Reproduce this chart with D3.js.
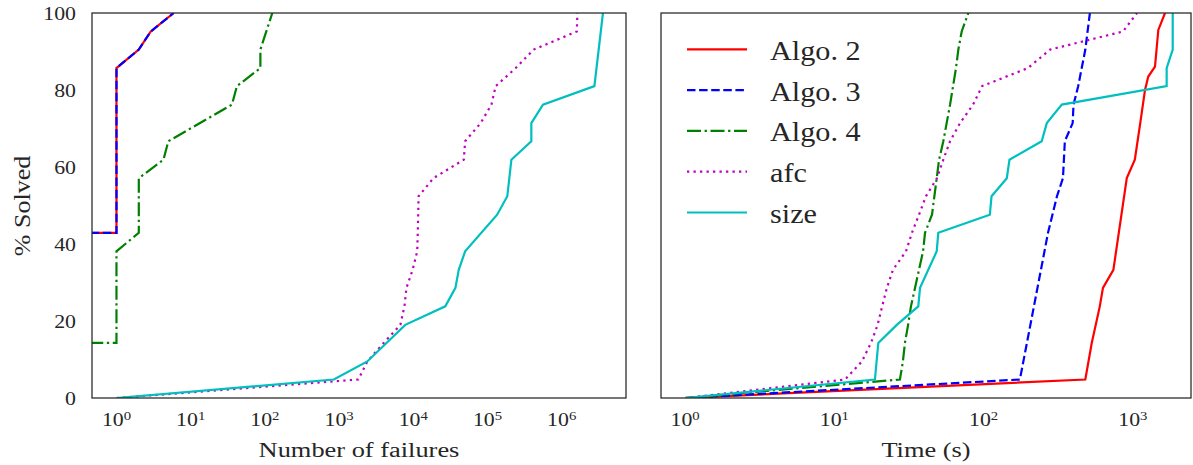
<!DOCTYPE html>
<html>
<head>
<meta charset="utf-8">
<script src="https://cdn.jsdelivr.net/npm/d3@7"></script>
<style>
  body { margin: 0; background: #fff; }
  text { font-family: 'Liberation Serif', serif; fill: #262626; }
</style>
</head>
<body>
<div id="chart-container"></div>
<script>
// series: [x, % solved]; x = 0.1 marks points that fall off the left of the log axis
const seriesNames = ['Algo. 2', 'Algo. 3', 'Algo. 4', 'afc', 'size'];

const failAlgo2 = [[0.1, 42.9], [1, 42.9], [1, 85.7], [2, 90.5], [2.9, 95.2], [5.9, 100]];
const failAlgo3 = [[0.1, 42.9], [1, 42.9], [1, 85.7], [2, 90.5], [2.9, 95.2], [5.9, 100]];
const failAlgo4 = [[0.1, 14.3], [1, 14.3], [1, 38.1], [2, 42.9], [2, 57.1], [4.3, 61.9], [5, 66.7],
  [36, 76.2], [42, 81.0], [87, 85.7], [87, 90.5], [126, 100]];
const failAfc = [[1, 0], [1820, 4.8], [2400, 9.5], [4000, 14.3], [6700, 19.0], [7600, 23.8], [8100, 28.6],
  [9800, 33.3], [11300, 38.1], [11500, 42.9], [11800, 52.4], [18700, 57.1], [48000, 61.9], [50000, 66.7],
  [81000, 71.4], [113000, 76.2], [129000, 81.0], [240000, 85.7], [420000, 90.5], [1.6e6, 95.2], [1.63e6, 100]];
const failSize = [[1, 0], [850, 4.8], [2400, 9.5], [7800, 19.0], [27000, 23.8], [37000, 28.6], [41000, 33.3],
  [50000, 38.1], [135000, 47.6], [185000, 52.4], [210000, 61.9], [390000, 66.7], [390000, 71.4],
  [560000, 76.2], [2.76e6, 81.0], [3.6e6, 100]];

const timeAlgo2 = [[1, 0], [480, 4.8], [530, 14.3], [600, 23.8], [630, 28.6], [740, 33.3], [910, 57.1],
  [1030, 61.9], [1120, 71.4], [1205, 80.0], [1268, 83.5], [1406, 86.1], [1480, 95.6], [1641, 100]];
const timeAlgo3 = [[1, 0], [175, 4.8], [270, 42.9], [310, 52.4], [340, 57.1], [350, 66.7], [395, 71.4],
  [400, 76.2], [430, 81.0], [480, 90.5], [515, 100]];
const timeAlgo4 = [[1, 0], [27.5, 4.8], [28.8, 9.5], [29.7, 14.3], [31.2, 19.0], [32.6, 23.8], [34.7, 28.6],
  [36.9, 33.3], [39.3, 38.1], [40.5, 42.9], [45.1, 47.6], [48.5, 57.1], [50.3, 61.9], [53.7, 66.7],
  [59.6, 76.2], [62.4, 81.0], [65.3, 85.7], [67.7, 90.5], [71.3, 95.2], [79, 100]];
const timeAfc = [[1, 0], [11.8, 4.8], [15.3, 9.5], [17.6, 14.3], [19.5, 19.0], [20.9, 23.8], [22.5, 28.6],
  [24.7, 33.3], [30.2, 38.1], [33.1, 42.9], [36.9, 47.6], [41.1, 52.4], [48.7, 57.1], [53.7, 61.9],
  [59.6, 66.7], [69.5, 71.4], [85, 76.2], [97.6, 81.0], [198, 85.7], [279, 90.5], [859, 95.2], [1065, 100]];
const timeSize = [[1, 0], [18.7, 4.8], [19.7, 14.3], [26.2, 19.0], [36.5, 23.8], [37.5, 28.6], [48.5, 38.1],
  [49.7, 42.9], [110, 47.6], [113, 52.4], [143, 57.1], [149, 61.9], [245, 66.7], [265, 71.4], [334, 76.2],
  [1683, 81.0], [1683, 85.7], [1848, 90.5], [1848, 100]];

const yTicks = [0, 20, 40, 60, 80, 100];
const failTicks = [0, 1, 2, 3, 4, 5, 6];   // exponents
const timeTicks = [0, 1, 2, 3];

const styles = [
  { color: '#ff0000', dash: null },
  { color: '#0000ff', dash: '8.5 3.6' },
  { color: '#008000', dash: '14 3.6 2.3 3.6' },
  { color: '#bf00bf', dash: '2.3 4.2' },
  { color: '#00bfbf', dash: null }
];

const svgWidth = 1193;
const svgHeight = 465;

const svg = d3.select('#chart-container')
  .append('svg')
  .attr('width', svgWidth)
  .attr('height', svgHeight);

const yScale = d3.scaleLinear().domain([0, 100]).range([398, 13]);

const panels = [
  { id: 'fail', x: d3.scaleLog().domain([0.468, 7.36e6]).range([92, 626]),
    series: [failAlgo2, failAlgo3, failAlgo4, failAfc, failSize], ticks: failTicks, label: 'Number of failures' },
  { id: 'time', x: d3.scaleLog().domain([0.69, 2450]).range([661, 1191]),
    series: [timeAlgo2, timeAlgo3, timeAlgo4, timeAfc, timeSize], ticks: timeTicks, label: 'Time (s)' }
];

panels.forEach(function (p) {
  const x0 = p.x.range()[0], x1 = p.x.range()[1];
  const y0 = yScale.range()[1], y1 = yScale.range()[0];

  svg.append('clipPath').attr('id', 'clip-' + p.id)
    .append('rect').attr('x', x0).attr('y', y0).attr('width', x1 - x0).attr('height', y1 - y0);

  const line = d3.line()
    .x(function (d) { return p.x(d[0]); })
    .y(function (d) { return yScale(d[1]); });

  const g = svg.append('g').attr('clip-path', 'url(#clip-' + p.id + ')');
  p.series.forEach(function (s, i) {
    g.append('path')
      .datum(s)
      .attr('d', line)
      .attr('fill', 'none')
      .attr('stroke', styles[i].color)
      .attr('stroke-width', 2.2)
      .attr('stroke-dasharray', styles[i].dash);
  });

  // frame
  svg.append('rect')
    .attr('x', x0).attr('y', y0).attr('width', x1 - x0).attr('height', y1 - y0)
    .attr('fill', 'none').attr('stroke', '#262626').attr('stroke-width', 1.25);

  // x tick labels 10^k
  p.ticks.forEach(function (k) {
    const t = svg.append('text')
      .attr('transform', 'translate(' + p.x(Math.pow(10, k)) + ',426) scale(1.18,1)')
      .attr('text-anchor', 'middle')
      .style('font-size', '18.5px');
    t.append('tspan').text('10');
    t.append('tspan').attr('dy', -6).style('font-size', '12.5px').text(k);
  });

  svg.append('text')
    .attr('transform', 'translate(' + ((x0 + x1) / 2) + ',457) scale(1.32,1)')
    .attr('text-anchor', 'middle')
    .style('font-size', '20px')
    .text(p.label);
});

// y tick labels (left panel only)
yTicks.forEach(function (v) {
  svg.append('text')
    .attr('transform', 'translate(76,' + (yScale(v) + 6.5) + ') scale(1.18,1)')
    .attr('text-anchor', 'end')
    .style('font-size', '18.5px')
    .text(v);
});

svg.append('text')
  .attr('transform', 'translate(30,206) rotate(-90) scale(1.3,1.15)')
  .attr('text-anchor', 'middle')
  .style('font-size', '20px')
  .text('% Solved');

// legend
const legend = svg.append('g');
seriesNames.forEach(function (name, i) {
  const ly = 49.3 + i * 40.8;
  legend.append('line')
    .attr('x1', 687).attr('x2', 747).attr('y1', ly).attr('y2', ly)
    .attr('stroke', styles[i].color)
    .attr('stroke-width', 2.2)
    .attr('stroke-dasharray', styles[i].dash);
  legend.append('text')
    .attr('transform', 'translate(770,' + (ly + 10.5) + ') scale(1.12,1)')
    .style('font-size', '27px')
    .text(name);
});
</script>
</body>
</html>
